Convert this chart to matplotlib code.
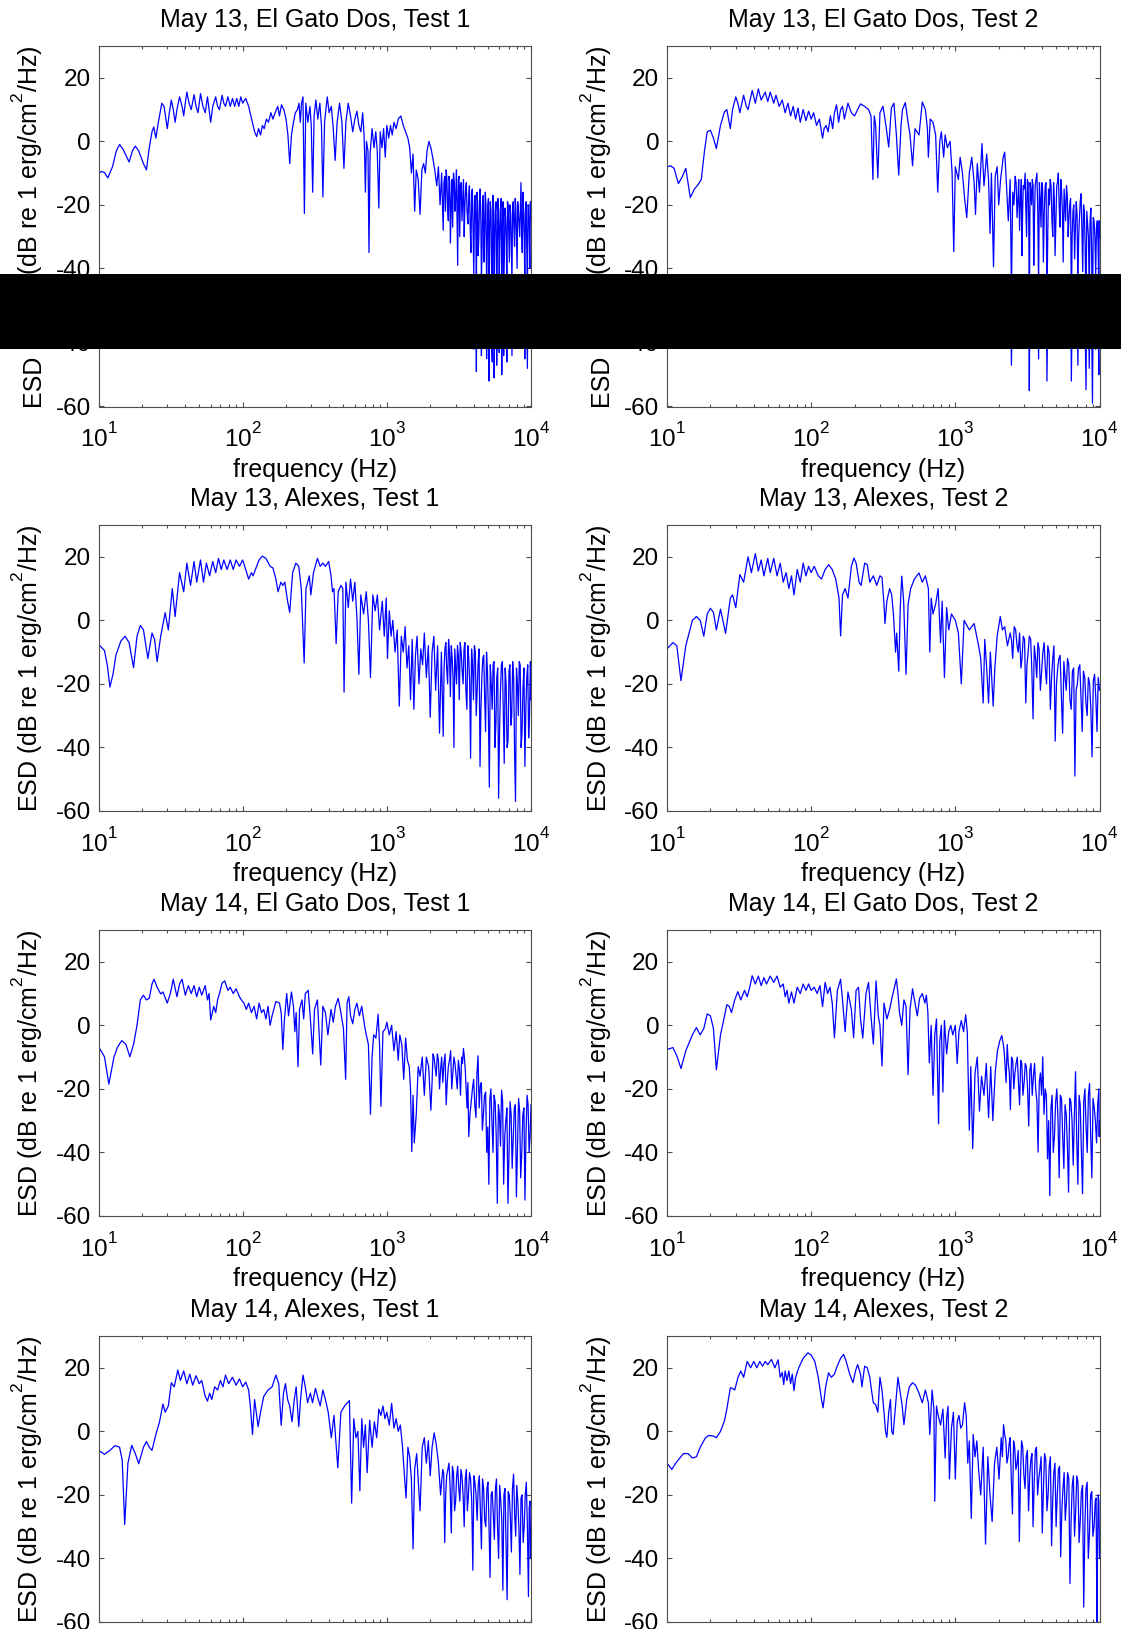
import matplotlib
matplotlib.use('Agg')
import matplotlib.pyplot as plt
from matplotlib.patches import Rectangle
from matplotlib.transforms import Bbox, TransformedBbox

try:
    # raise superscripts a little more, like the 10^n labels in the original
    import matplotlib._mathtext as _mt
    _mt.FontConstantsBase.sup1 = 1.0
except Exception:
    pass

# (Hz, dB) points
gato13_t1 = [(10,-10),(10.5,-9.5),(11,-9.8),(11.6,-11.5),(12.5,-8),(13.3,-3),(14,-1),(14.8,-2.5),(16.3,-6.5),(17.2,-3),(18,-1.5),(19,-3),(20.5,-7),(21.5,-9),(22.5,-2),(23.5,3),(24.2,4.5),(25,1),(26,6),(27.5,12),(28.5,11),(30,4),(31,9),(32,13),(33,10),(34,6),(35,10),(36.5,14),(38,11),(39,8),(40,12),(41,15.5),(42.5,12),(44,10),(46,14.7),(47.5,11),(49,9),(51,15),(53,11),(55,9),(57,14),(58.5,10),(60,6),(62,11),(65,14),(67,11),(69,10),(72,14.5),(74,12),(76,11),(79,14),(82,11),(85,13.5),(88,11),(91,13.5),(94,11),(97,14),(100,12),(105,13.5),(110,11),(114,8),(118,5),(121,3),(125,1.5),(129,4),(133,2),(137,5),(141,4),(146,7),(151,6),(157,9),(162,7),(168,9),(175,11),(180,8),(186,11.5),(193,10),(200,7),(206,2),(212,-7),(218,2),(225,6),(232,9),(240,10),(246,12),(251,6),(256,12),(262,14),(268,-22.7),(274,12),(283,6),(293,11),(299,5),(306,-16),(313,8),(322,13),(332,7),(343,12),(352,5),(360,-17.5),(370,6),(386,14),(398,9),(412,11),(425,4),(438,-6),(452,6),(470,12),(488,6),(504,-8.5),(520,6),(540,12),(560,8),(580,3),(600,7),(620,9.5),(640,5),(660,3),(680,9),(695,2),(702,-5),(710,-16),(722,0),(740,-3),(752,-35),(765,-4),(790,4),(815,-2),(838,3),(858,-3),(880,-21),(900,3),(925,-2),(950,4),(975,-5),(1000,5),(1030,1),(1060,5),(1090,2),(1120,6),(1160,4),(1200,7),(1250,8),(1300,5),(1350,3),(1400,1),(1440,-2),(1480,-10),(1520,-4),(1560,-22),(1600,-9),(1650,-12),(1700,-23),(1750,-9),(1800,-7),(1850,-10),(1900,-3),(1960,0),(2020,-2),(2080,-5),(2150,-9),(2220,-14),(2280,-8),(2340,-20),(2400,-10),(2460,-28),(2520,-11),(2580,-9),(2640,-21),(2700,-11),(2760,-32),(2830,-12),(2900,-10),(2970,-22),(3040,-9),(3100,-39),(3170,-11),(3240,-14),(3320,-25),(3400,-12),(3480,-20),(3560,-13),(3650,-26),(3740,-14),(3830,-35),(3920,-15),(4010,-42),(4100,-17),(4180,-49),(4260,-19),(4350,-30),(4440,-15),(4530,-44),(4620,-18),(4720,-38),(4820,-16),(4920,-45),(5020,-20),(5120,-52),(5220,-19),(5330,-40),(5440,-17),(5550,-51),(5660,-22),(5780,-47),(5900,-18),(6020,-43),(6140,-21),(6270,-50),(6400,-19),(6530,-36),(6660,-24),(6800,-46),(6940,-20),(7080,-38),(7230,-23),(7380,-44),(7530,-19),(7690,-33),(7850,-21),(8010,-40),(8180,-22),(8350,-30),(8520,-13),(8700,-35),(8880,-21),(9060,-45),(9250,-19),(9440,-48),(9630,-20),(9820,-40),(10000,-24)]
gato13_t1_band = [(2490,-13),(2550,-22),(2610,-12),(2670,-25),(2730,-13),(2800,-18),(2860,-27),(2940,-13),(3010,-17),(3070,-24),(3135,-12),(3205,-30),(3280,-13),(3360,-18),(3440,-30),(3520,-15),(3600,-22),(3700,-17),(3790,-28),(3880,-16),(3970,-30),(4060,-18),(4140,-26),(4220,-16),(4300,-36),(4400,-18),(4490,-25),(4580,-33),(4670,-17),(4770,-29),(4870,-20),(4970,-34),(5070,-18),(5170,-30),(5280,-22),(5390,-46),(5500,-20),(5610,-30),(5720,-19),(5840,-35),(5960,-22),(6080,-30),(6200,-18),(6330,-28),(6460,-44),(6600,-21),(6730,-30),(6870,-19),(7010,-29),(7150,-20),(7300,-33),(7450,-21),(7610,-27),(7770,-18),(7930,-30),(8090,-19),(8260,-26),(8430,-22),(8610,-28),(8790,-16),(8970,-30),(9150,-22),(9340,-33),(9530,-20),(9720,-28),(9910,-19)]

gato13_t2 = [(10,-8),(10.6,-7.7),(11.2,-8.5),(12,-13.3),(12.8,-11),(13.5,-8.5),(14.5,-17.7),(15.5,-15),(16.5,-13.5),(17.3,-12),(18.2,-3),(19,3),(20,3.5),(21,1),(22,-2.3),(23.5,5),(25,9.2),(26,10),(27.5,4),(28.5,10),(30,14),(31,12),(32,9),(34,14.5),(35.5,11),(36.5,10),(39,16),(41,12),(43,16.5),(45,13),(48,15.5),(50,12.5),(52,15.5),(55,12),(57,14.5),(60,11),(63,13),(66,9),(69,12),(72,8),(75,11),(78,7),(81,10.5),(84,6),(88,10),(92,6.5),(96,9.5),(100,7),(104,9),(109,5),(114,7),(118,3),(120,1),(123,4),(127,5),(131,3),(136,8),(141,4),(145,9),(150,11.5),(155,6),(160,10),(165,11),(170,7),(180,12),(190,9),(200,8),(210,10),(220,11.8),(235,11),(250,10),(260,8),(268,-12),(274,8),(280,5),(290,-11.5),(300,9),(315,11),(330,5),(345,-1.8),(360,10.5),(375,12),(390,2),(405,-10.6),(420,5),(430,10),(450,12.2),(470,6),(485,2),(505,-7.7),(525,4),(560,2),(590,12.4),(620,10),(640,4),(650,-5),(670,7),(700,6),(730,2),(755,-16),(780,0),(800,3),(830,-5),(850,2),(880,-2),(920,0),(950,-10),(975,-34.7),(1000,-8),(1050,-12),(1080,-5),(1120,-10),(1160,-18),(1200,-24),(1250,-10),(1300,-5),(1350,-13),(1380,-23),(1420,-7),(1470,-16),(1530,-0.7),(1580,-14),(1650,-4),(1700,-12),(1740,-29),(1780,-10),(1840,-39.5),(1890,-11),(1950,-8),(2000,-20),(2060,-12),(2150,-5),(2200,-3.4),(2260,-13),(2330,-25),(2400,-12),(2450,-47),(2500,-16),(2600,-11),(2680,-24),(2750,-12),(2830,-18),(2900,-36),(2960,-14),(3050,-10),(3120,-30),(3200,-13),(3260,-55),(3330,-15),(3420,-12),(3500,-39),(3580,-14),(3680,-10),(3780,-45),(3880,-18),(3980,-13),(4080,-38),(4200,-14),(4320,-52),(4430,-15),(4550,-12),(4680,-25),(4800,-13),(4920,-36),(5050,-14),(5180,-10),(5320,-27),(5460,-16),(5600,-38),(5750,-20),(5900,-14),(6060,-30),(6220,-20),(6380,-52),(6550,-22),(6720,-37),(6900,-19),(7080,-47),(7260,-24),(7450,-16.5),(7650,-41),(7850,-22),(8060,-54.7),(8270,-26),(8490,-48),(8710,-21),(8940,-59),(9170,-25),(9410,-42),(9660,-25),(9900,-50),(10000,-30)]
gato13_t2_band = [(2550,-20),(2640,-13),(2720,-18),(2790,-28),(2870,-12),(2930,-22),(3000,-15),(3080,-20),(3160,-12),(3230,-25),(3300,-13),(3380,-20),(3460,-14),(3540,-24),(3630,-12),(3730,-22),(3830,-13),(3930,-27),(4030,-15),(4140,-22),(4260,-13),(4380,-28),(4490,-20),(4610,-14),(4740,-30),(4860,-18),(4990,-24),(5110,-13),(5250,-20),(5390,-12),(5530,-22),(5680,-15),(5820,-25),(5980,-17),(6140,-24),(6300,-18),(6460,-30),(6630,-20),(6810,-27),(6990,-23),(7170,-30),(7350,-19),(7550,-28),(7750,-20),(7950,-33),(8160,-22),(8380,-30),(8600,-25),(8820,-35),(9050,-24),(9290,-30),(9530,-27),(9780,-33),(9950,-25)]

alexes13_t1 = [(10,-7.5),(11,-9.5),(11.5,-14),(12,-21),(12.6,-17),(13.2,-11),(14.3,-6.5),(15.3,-5),(16.3,-7),(17.5,-14.9),(18.5,-5),(19.5,-1.6),(20.5,-3),(22,-12),(23.5,-4),(24.5,-6),(25.5,-13),(27,-5),(29,2.4),(30.5,-3),(32.5,10),(34,1.2),(36.5,15),(39,9),(41,18),(43.5,11),(46,18.5),(48,12),(51,19),(53.5,12),(56,18),(59,14),(62,18.5),(65,15),(68,19.5),(71,16),(74,19),(78,16),(82,19),(86,16),(90,19),(95,17),(100,19),(105,16),(110,13),(115,15),(118,14),(125,17),(130,19),(137,20.2),(145,19.5),(155,17),(162,16.5),(170,13),(176,9),(184,12),(190,11),(196,12),(205,6),(212,2.5),(222,15),(234,18),(245,17),(255,10),(267,-13.4),(275,10),(290,14),(297,8),(310,15),(330,19.5),(345,17),(360,18),(375,17),(395,18.5),(410,14),(420,9),(430,10),(445,-7.3),(460,9),(480,11),(495,10),(505,-22.6),(520,12),(540,4),(560,13),(580,6),(600,12),(620,1),(640,-17),(660,8),(690,2),(720,9),(745,0),(770,-18),(800,8),(830,3),(860,8),(890,-3),(930,6),(960,-5),(990,7),(1010,-12),(1040,3),(1070,-5),(1100,0),(1140,-10),(1180,-3),(1220,-27),(1260,-5),(1300,-10),(1340,-2),(1380,-15),(1420,-8),(1460,-25),(1500,-6),(1540,-28),(1580,-11),(1620,-5),(1670,-20),(1720,-9),(1770,-14),(1820,-4),(1880,-18),(1940,-8),(2000,-30.5),(2060,-10),(2120,-5),(2180,-22),(2250,-8),(2320,-35.5),(2390,-10),(2460,-36.5),(2530,-9),(2600,-15),(2680,-6),(2760,-24),(2840,-12),(2920,-40),(3000,-14),(3090,-8),(3180,-25),(3280,-10),(3380,-20),(3480,-7),(3590,-28),(3700,-12),(3810,-43.4),(3930,-14),(4050,-8),(4170,-30),(4300,-13),(4430,-46),(4560,-18),(4700,-11),(4840,-35),(4990,-16),(5140,-52.5),(5300,-20),(5460,-14),(5620,-40),(5790,-18),(5960,-56),(6140,-22),(6330,-13),(6520,-45),(6720,-20),(6930,-38),(7140,-14),(7350,-30),(7580,-18),(7810,-57),(8050,-20),(8290,-13),(8540,-40),(8800,-21),(9070,-46),(9350,-18),(9630,-37),(9900,-13),(10000,-25)]
alexes13_t1_band = [(2495,-15),(2565,-7),(2640,-20),(2720,-10),(2800,-8),(2880,-18),(2960,-9),(3045,-20),(3135,-11),(3230,-7),(3330,-16),(3430,-9),(3535,-22),(3645,-8),(3755,-20),(3870,-9),(3990,-25),(4110,-10),(4235,-22),(4365,-9),(4495,-28),(4630,-12),(4770,-24),(4915,-10),(5065,-30),(5220,-14),(5380,-28),(5540,-13),(5705,-33),(5875,-15),(6050,-35),(6235,-14),(6425,-30),(6620,-15),(6825,-40),(7035,-16),(7245,-33),(7465,-13),(7695,-42),(7930,-15),(8170,-30),(8415,-14),(8670,-35),(8935,-15),(9210,-28),(9490,-14),(9765,-30),(9950,-16)]

alexes13_t2 = [(10,-9),(11,-7),(11.7,-8),(12.5,-19),(13.5,-8),(15,0),(16,1.2),(17,0),(18,-5),(19,2),(20,3.8),(21,2.5),(22,-3),(23.5,3.5),(25.5,-4.1),(27.5,7),(28.5,8),(30,4),(32,14.4),(34,12),(36.5,20),(38.5,15),(41,21),(43,15.5),(45,19),(47,14),(50,19.5),(52,15),(55,19.5),(58,14),(61,18),(64,12),(67,15),(70,10),(73,14),(76,8),(80,16),(84,12),(88,18),(92,14),(96,17),(100,15),(105,17),(112,14),(118,13),(125,16),(132,17.5),(140,16),(148,13),(152,10),(156,7),(160,-4.9),(165,8),(172,10),(180,7),(190,17),(198,19.6),(205,18),(215,12),(222,11),(235,18),(245,17.5),(255,12),(270,14),(285,11),(300,14),(310,13.5),(320,5),(325,-1),(335,6),(350,10),(362,8),(372,2),(385,-10),(392,-4),(405,-16),(415,4),(425,13.9),(438,6),(455,-17),(470,5),(490,10),(520,13),(560,14.9),(590,12),(620,14),(650,10),(665,-10),(680,7),(700,2),(730,5),(760,10),(790,-7),(810,6),(840,-18),(870,4),(900,-3),(940,2),(1000,0),(1050,-4),(1100,-20),(1150,0),(1250,-3),(1350,-1),(1450,-8),(1500,-12),(1560,-26),(1600,-6),(1650,-15),(1700,-26),(1750,-10),(1830,-27),(1880,-15),(1950,-5),(2050,1.2),(2120,-3),(2200,-2),(2300,-8),(2400,-4),(2500,-12),(2620,-3),(2730,-10),(2850,-15),(2960,-5),(3080,-26),(3200,-10),(3330,-6),(3460,-31),(3600,-12),(3740,-7),(3890,-22),(4050,-10),(4210,-15),(4380,-8),(4560,-28),(4740,-12),(4930,-38),(5130,-15),(5330,-11),(5550,-35.5),(5770,-18),(6000,-12),(6240,-25),(6490,-16),(6750,-49),(7020,-20),(7300,-14),(7590,-35),(7900,-18),(8210,-30),(8540,-20),(8880,-43),(9240,-17),(9610,-35),(10000,-22)]
alexes13_t2_band = [(2450,-6),(2560,-2),(2680,-8),(2790,-4),(2900,-12),(3020,-6),(3140,-14),(3260,-5),(3390,-15),(3530,-8),(3670,-18),(3810,-9),(3970,-16),(4130,-7),(4290,-20),(4470,-10),(4650,-18),(4830,-8),(5030,-20),(5230,-12),(5440,-24),(5660,-13),(5880,-22),(6120,-14),(6360,-28),(6620,-15),(6880,-22),(7160,-15),(7450,-25),(7740,-16),(8050,-26),(8370,-18),(8710,-28),(9060,-19),(9420,-24),(9800,-18)]

gato14_t1 = [(10,-6.7),(11,-9.9),(11.8,-18.5),(12.8,-10),(13.5,-7),(14.5,-4.8),(15.5,-6),(16.5,-9.9),(17.5,-6),(18.5,0),(19.5,8),(20.5,9.5),(21.5,8),(22.5,8.5),(23.5,13),(24.3,14.5),(25.5,12),(27,9.9),(28,10.5),(30,7),(31.5,10),(33,14.5),(35,9),(36.5,13),(38,14.5),(40,9.5),(42,12.5),(44,10),(46,12.5),(48,9),(50,12),(52,9.5),(55,12.5),(57,8),(58.5,10),(60,1.7),(63,6),(65,4),(67,8),(69,10),(72,13.3),(75,14),(79,11),(82,12),(86,10),(90,11.5),(95,9),(98,8),(102,7),(106,5),(110,7),(115,4),(120,6),(125,2),(130,7),(135,4),(140,5),(145,2),(150,6),(155,0),(160,3),(170,7.5),(180,7),(185,4),(190,-7.6),(195,2),(202,10),(208,3),(218,10.5),(225,6),(230,-2),(235,4),(242,-13),(248,5),(258,8),(265,2),(272,10),(285,11),(295,2),(306,-9),(315,5),(330,8),(348,-12.5),(360,6),(375,4),(390,-3),(410,5),(425,1),(440,6),(460,8.5),(480,4),(500,-1),(518,-17),(530,7),(545,9),(560,3),(580,0.5),(600,5),(620,7),(645,3),(670,6),(700,0),(720,-3),(745,-6),(770,-28),(790,-10),(810,-3),(840,-4),(870,3.5),(890,-6),(910,-25.5),(940,-2),(980,-1),(1000,1),(1040,-3),(1080,0),(1120,-8),(1160,-2),(1200,-11),(1230,-3),(1270,-6),(1310,-17),(1350,-4),(1390,-11),(1430,-13),(1460,-20),(1490,-39.7),(1520,-22),(1550,-37),(1600,-28),(1650,-13),(1700,-16),(1760,-10),(1820,-22),(1880,-10),(1950,-13),(2020,-26.7),(2090,-9),(2160,-13),(2240,-9),(2320,-20),(2400,-10),(2490,-12),(2580,-25),(2670,-13),(2770,-8),(2870,-15),(2970,-12),(3080,-20),(3190,-14),(3300,-10),(3400,-7.3),(3500,-14),(3600,-26),(3700,-35),(3850,-24),(4000,-17),(4150,-29),(4290,-9.6),(4450,-19),(4600,-33),(4760,-22),(4930,-40),(5100,-50),(5270,-20),(5450,-40),(5640,-24),(5840,-56),(6040,-28),(6250,-20.4),(6460,-50),(6690,-30),(6920,-56),(7160,-24),(7400,-45),(7660,-26),(7920,-54),(8200,-23),(8480,-48),(8780,-28),(9080,-55),(9390,-22),(9700,-40),(10000,-25)]
gato14_t1_band = [(2060,-18),(2125,-10),(2200,-16),(2280,-11),(2360,-14),(2445,-18),(2535,-9),(2625,-18),(2720,-11),(2820,-20),(2920,-10),(3025,-16),(3135,-11),(3245,-22),(3350,-12),(3450,-10),(3550,-20),(3650,-18),(3775,-28),(3925,-20),(4075,-25),(4220,-15),(4370,-26),(4525,-18),(4680,-28),(4845,-21),(5015,-32),(5185,-23),(5360,-30),(5545,-22),(5740,-35),(5940,-25),(6145,-38),(6355,-24),(6575,-35),(6805,-26),(7040,-40),(7280,-28),(7530,-35),(7790,-25),(8060,-38),(8340,-27),(8630,-40),(8930,-26),(9235,-34),(9545,-25),(9850,-35)]

gato14_t2 = [(10,-7.6),(11,-7),(11.8,-10),(12.5,-13.6),(13.5,-8),(15,-3),(16,-0.7),(17,-3),(18,-1),(19,3.6),(20,3),(21,-1),(22,-14),(23.5,-3),(25,2.7),(26,6.5),(27,6),(28,4),(29.5,8),(31,10.6),(32.5,8),(34.5,11),(36,9),(37.5,12),(39,15.6),(41,13),(43,15.5),(45,12.5),(47,15),(49,13),(52,15.5),(55,13.5),(58,15.5),(61,12),(64,13),(66,9),(68,11),(70,7),(73,10.5),(76,7),(80,12),(84,10),(88,13),(92,11),(96,13),(100,11),(105,12),(110,10),(115,12.5),(120,5.9),(125,13.5),(130,10),(135,12),(140,7),(145,-3.9),(152,11),(160,14.5),(165,8),(172,-2),(180,10.5),(190,5),(197,-3.9),(205,11),(213,12),(220,2),(228,-4),(240,10),(250,13.5),(260,3),(270,-5.9),(282,14),(292,3),(300,0),(310,-12.8),(320,7),(335,2),(350,5),(365,9),(390,14.6),(400,10),(410,4),(425,0),(440,8),(455,6),(470,-15.5),(485,5),(505,11.5),(525,7),(545,3),(565,8.5),(590,10),(615,7),(630,9.5),(645,4),(660,-11.8),(680,0),(700,-22),(720,-3),(740,2),(765,-31),(780,-5),(800,0),(820,-21),(840,1.5),(870,-9),(900,-2),(930,0),(960,-3),(1000,0),(1030,-12),(1060,-2),(1100,1.5),(1140,-2),(1180,3.3),(1210,-2),(1250,-33),(1280,-13),(1320,-38.8),(1370,-15),(1420,-10),(1470,-27),(1520,-16),(1580,-22),(1640,-12),(1700,-29),(1760,-13),(1820,-30),(1890,-15),(1960,-8),(2030,-5),(2100,-3.2),(2170,-7),(2250,-18),(2330,-12),(2410,-26.5),(2500,-11),(2590,-15),(2690,-10),(2790,-25),(2890,-12),(3000,-18),(3110,-13),(3230,-31.7),(3350,-12),(3480,-16),(3610,-20),(3750,-39.9),(3890,-15),(4040,-9.9),(4200,-20),(4360,-42),(4520,-53.6),(4690,-22),(4870,-35),(5060,-20),(5250,-48),(5450,-23),(5660,-45),(5880,-28),(6100,-52.5),(6330,-24),(6570,-44),(6820,-14.6),(7080,-50),(7350,-25),(7630,-53),(7920,-20),(8220,-40),(8530,-18.3),(8850,-48),(9190,-26),(9540,-37),(9900,-20),(10000,-30)]
gato14_t2_band = [(2210,-12),(2290,-6),(2370,-15),(2455,-10),(2545,-20),(2640,-12),(2740,-18),(2840,-11),(2945,-22),(3055,-12),(3170,-20),(3290,-14),(3415,-22),(3545,-12),(3680,-24),(3820,-18),(3965,-22),(4120,-28),(4280,-22),(4440,-30),(4605,-26),(4780,-40),(4965,-24),(5155,-30),(5350,-22),(5555,-35),(5770,-25),(5990,-38),(6215,-23),(6450,-30),(6695,-28),(6950,-36),(7215,-22),(7490,-40),(7775,-24),(8070,-32),(8375,-22),(8690,-35),(9020,-23),(9365,-30),(9720,-25),(9950,-35)]

alexes14_t1 = [(10,-6),(11,-7.2),(12,-6),(13,-4.5),(14,-5),(14.6,-9),(15.2,-29.3),(16,-10),(17,-4.4),(18,-7),(19,-10.2),(20.5,-5),(21.5,-3.2),(22.5,-5),(23.5,-6),(25,-1),(26.5,3),(28,8.6),(29,6),(30.5,8),(32,15.3),(33.5,14),(35.5,19.3),(37,16),(39,19),(41,15),(43,18),(45,14.5),(47.5,17.5),(50,15),(52,16),(55,11),(57,9.5),(59,12),(61,10),(64,14),(67,13),(70,16),(73,14),(76,17.7),(80,15),(85,17),(90,14.5),(95,16.5),(100,14),(105,15.5),(110,13),(113,8),(117,-1),(121,10),(125,5),(128,1.5),(133,6),(140,11),(150,13),(160,14),(170,17.7),(178,15),(185,1.9),(192,12),(198,15),(205,10),(212,8),(220,3),(228,10),(235,14),(245,1.5),(252,10),(262,17.7),(272,14),(282,9),(295,12),(305,9),(320,13.5),(335,10),(345,8),(360,13),(375,10),(392,6),(412,-2),(430,5),(457,-11.5),(480,6),(510,8),(550,9.7),(570,-22.6),(590,4),(610,-2),(630,0),(650,-18.7),(670,4),(690,-5),(710,2),(730,-13),(760,3.5),(790,-5),(820,3),(850,-2),(880,7),(910,5),(940,8),(970,4),(1000,6),(1040,2),(1080,8.8),(1120,1),(1160,4),(1200,0),(1240,2),(1280,-4),(1320,-13),(1360,-21),(1400,-5),(1440,-8),(1480,-15),(1520,-37),(1560,-12),(1610,-7),(1650,-15),(1700,-25),(1760,-5),(1820,-2),(1880,-10),(1940,-3),(2000,-14),(2060,-5),(2130,-0.5),(2200,-4),(2280,-10),(2360,-20),(2440,-12),(2520,-35),(2600,-14),(2700,-10),(2800,-32),(2900,-13),(3000,-22),(3100,-11),(3210,-22),(3320,-14),(3440,-30),(3560,-12),(3680,-20),(3810,-15),(3950,-43.7),(4080,-16),(4230,-28),(4380,-14),(4530,-37),(4690,-18),(4860,-30),(5030,-16),(5200,-46),(5380,-19),(5570,-34),(5760,-15),(5960,-40),(6170,-22),(6380,-50),(6600,-18),(6830,-53),(7070,-20),(7310,-38),(7570,-13.5),(7830,-33),(8100,-22),(8380,-45),(8670,-20),(8970,-30),(9280,-16),(9600,-52),(9850,-22),(10000,-30)]
alexes14_t1_band = [(2480,-13),(2560,-20),(2650,-12),(2750,-18),(2850,-11),(2950,-25),(3050,-14),(3155,-18),(3265,-12),(3380,-20),(3500,-15),(3620,-25),(3745,-13),(3880,-22),(4015,-14),(4155,-20),(4305,-17),(4455,-25),(4610,-15),(4775,-28),(4945,-18),(5115,-30),(5290,-20),(5475,-26),(5665,-18),(5860,-30),(6065,-17),(6275,-28),(6490,-20),(6715,-35),(6950,-19),(7190,-27),(7440,-18),(7700,-26),(7965,-17),(8240,-30),(8525,-21),(8820,-35),(9125,-20),(9440,-30),(9725,-24),(9925,-40)]

alexes14_t2 = [(10,-10),(10.8,-12),(11.5,-10),(13,-7),(14,-7),(15,-8.4),(16,-8),(17,-5),(18.5,-2),(19.5,-1.3),(21,-1.5),(22,-2),(23.5,0),(25,3.2),(26,7),(27.5,13.7),(28.5,13.5),(29.5,13),(31,16.8),(32.5,19),(34,17),(36,22),(38,20),(40,22),(42,20),(44,22),(46,20.5),(48,22),(50,21),(53,22.6),(56,20),(59,22.5),(61,17),(63,18.5),(64.5,14.7),(66,19),(68,16),(70,19),(72,15),(74,18),(76,12.8),(78,17),(82,20),(88,23),(95,24.7),(100,24),(106,22),(112,17),(118,10),(121,7.4),(126,14),(132,18.4),(138,17),(145,18),(150,20),(160,23),(168,24.2),(175,22),(185,18),(195,15.3),(203,19),(210,21),(220,18),(225,14),(235,20.5),(245,20),(255,17),(262,13),(270,9),(280,8.4),(290,6),(300,17),(310,13),(320,6),(328,0),(335,-1.9),(345,6),(355,10),(362,0),(370,-1),(385,8),(400,17),(415,12),(428,8),(440,2.1),(460,10),(480,14),(505,15.3),(530,14.5),(560,12),(590,9),(620,13),(650,9),(665,-1),(690,13),(710,7),(720,-22),(740,8),(760,5),(790,2),(820,7),(850,-8.4),(870,4),(890,7.9),(910,-15),(940,1),(970,6),(1000,-15),(1030,3),(1060,5),(1090,1),(1120,2),(1160,9),(1190,5),(1220,-10),(1250,-3),(1290,-27.4),(1330,-1),(1370,-8),(1410,-3),(1450,-12),(1500,-20),(1560,-5),(1620,-35.5),(1680,-8),(1740,-20),(1800,-28.4),(1870,-10),(1940,-5),(2010,-15),(2080,-2),(2160,2.1),(2240,-3),(2320,-8),(2400,-2),(2490,-26),(2580,-5),(2680,-10),(2780,-34.7),(2880,-3),(2990,-14),(3100,-8),(3220,-25),(3340,-9),(3460,-30),(3590,-6),(3720,-20),(3860,-12),(4010,-32),(4160,-7),(4320,-25),(4480,-11),(4650,-36),(4820,-13),(5000,-30),(5190,-12),(5380,-39.5),(5580,-18),(5790,-28),(6010,-13),(6240,-47.9),(6470,-17),(6710,-33),(6960,-14),(7220,-35),(7490,-19),(7770,-55.3),(8060,-18),(8360,-40),(8680,-20),(9000,-33),(9340,-22),(9600,-60.5),(9800,-20),(10000,-40)]
alexes14_t2_band = [(2120,-8),(2200,-1),(2280,-10),(2360,-4),(2445,-15),(2535,-3),(2630,-12),(2730,-6),(2830,-15),(2935,-5),(3045,-18),(3160,-6),(3280,-14),(3400,-7),(3525,-16),(3655,-5),(3790,-15),(3935,-8),(4085,-18),(4240,-9),(4400,-20),(4565,-8),(4735,-22),(4910,-10),(5095,-20),(5285,-11),(5480,-25),(5685,-13),(5900,-22),(6125,-15),(6355,-28),(6590,-14),(6835,-25),(7090,-16),(7355,-28),(7630,-17),(7915,-30),(8210,-16),(8520,-32),(8840,-19),(9170,-30),(9470,-21),(9700,-35),(9900,-22)]

titles = ['May 13, El Gato Dos, Test 1', 'May 13, El Gato Dos, Test 2',
          'May 13, Alexes, Test 1', 'May 13, Alexes, Test 2',
          'May 14, El Gato Dos, Test 1', 'May 14, El Gato Dos, Test 2',
          'May 14, Alexes, Test 1', 'May 14, Alexes, Test 2']
series = [gato13_t1 + gato13_t1_band, gato13_t2 + gato13_t2_band,
          alexes13_t1 + alexes13_t1_band, alexes13_t2 + alexes13_t2_band,
          gato14_t1 + gato14_t1_band, gato14_t2 + gato14_t2_band,
          alexes14_t1 + alexes14_t1_band, alexes14_t2 + alexes14_t2_band]
y_ticks = [-60, -40, -20, 0, 20]

plt.rcParams['font.family'] = ['Liberation Sans', 'DejaVu Sans']
plt.rcParams['mathtext.fontset'] = 'custom'
plt.rcParams['mathtext.rm'] = 'Liberation Sans'
plt.rcParams['mathtext.it'] = 'Liberation Sans:italic'
plt.rcParams['mathtext.bf'] = 'Liberation Sans:bold'
plt.rcParams['axes.unicode_minus'] = False

W, H = 1121, 1629
EDGE = '#4d4d4d'
BLUE = '#0000ff'
FS = 18
TICK_FS = 17.5
YLABEL = 'ESD (dB re 1 erg/cm$^2$/Hz)'

# layout in pixels from the top-left corner
COL_X = [98.5, 667]
AX_W = 432.5
ROW_TOP = [46, 525, 930, 1336]
AX_H = 286
BAR = (274, 348.5)   # black band pushed into the first row
YPAD_PT = 5.5


def rect(left, top, w, h):
    return [left / W, 1 - (top + h) / H, w / W, h / H]


def style(ax, top=True, bottom=True):
    ax.set_xscale('log')
    ax.set_xlim(10, 1e4)
    ax.tick_params(which='both', direction='in', color=EDGE, width=0.8,
                   labelsize=TICK_FS, labelcolor='black', right=True,
                   top=top, bottom=bottom, labelbottom=bottom)
    ax.tick_params(which='major', length=3.5)
    ax.tick_params(which='minor', length=2)
    ax.tick_params(axis='x', pad=12)
    ax.tick_params(axis='y', pad=YPAD_PT)
    for s in ax.spines.values():
        s.set_color(EDGE)
        s.set_linewidth(0.8)


fig = plt.figure(figsize=(W / 100, H / 100), dpi=100)
below_bar = TransformedBbox(Bbox.from_extents(0, 0, 1, 1 - BAR[1] / H), fig.transFigure)
shift = BAR[1] - BAR[0]

for i, (title, pts) in enumerate(zip(titles, series)):
    row, col = divmod(i, 2)
    pts = sorted(pts)
    hz = [p[0] for p in pts]
    db = [p[1] for p in pts]
    x0 = COL_X[col]
    top = ROW_TOP[row]
    lab_x = (x0 - 53.5) / W

    if row == 0:
        up_h = BAR[0] - top
        lo_h = AX_H - up_h
        ycut = 30 - up_h / AX_H * 90
        up = fig.add_axes(rect(x0, top, AX_W, up_h))
        lo = fig.add_axes(rect(x0, BAR[1], AX_W, lo_h))
        for ax in (up, lo):
            ax.plot(hz, db, color=BLUE, lw=0.9)
        style(up, top=True, bottom=False)
        style(lo, top=False, bottom=True)
        up.spines['bottom'].set_visible(False)
        lo.spines['top'].set_visible(False)
        up.set_ylim(ycut, 30)
        lo.set_ylim(-60, ycut)
        up.set_yticks([-40, -20, 0, 20])
        lo.set_yticks([-60])
        up.set_title(title, fontsize=FS, pad=13.9)
        lo.set_xlabel('frequency (Hz)', fontsize=FS)
        lo.xaxis.set_label_coords(0.5, -51 / lo_h)
        # label: upper part above the band, its start ("ESD") below it
        fig.text(lab_x, 1 - (top + AX_H / 2) / H, YLABEL, rotation=90,
                 ha='right', va='center', fontsize=FS)
        fig.text(lab_x, 1 - (top + AX_H + shift) / H, 'ESD', rotation=90,
                 ha='right', va='bottom', fontsize=FS)
        # bottom sliver of the -40 label that shows under the band
        y40 = top + (30 + 40) / 90 * AX_H
        t = fig.text((x0 - YPAD_PT * 100 / 72) / W, 1 - (y40 + shift) / H, '-40',
                     ha='right', va='center_baseline', fontsize=TICK_FS)
        t.set_clip_box(below_bar)
    else:
        ax = fig.add_axes(rect(x0, top, AX_W, AX_H))
        ax.plot(hz, db, color=BLUE, lw=0.9)
        style(ax)
        ax.set_ylim(-60, 30)
        ax.set_yticks(y_ticks)
        ax.set_title(title, fontsize=FS, pad=13.9)
        ax.set_xlabel('frequency (Hz)', fontsize=FS)
        ax.xaxis.set_label_coords(0.5, -51 / AX_H)
        fig.text(lab_x, 1 - (top + AX_H / 2) / H, YLABEL, rotation=90,
                 ha='right', va='center', fontsize=FS)

fig.add_artist(Rectangle((0, 1 - BAR[1] / H), 1, (BAR[1] - BAR[0]) / H,
                         transform=fig.transFigure, facecolor='black',
                         edgecolor='none', zorder=10))

fig.savefig('out.png', dpi=100)
